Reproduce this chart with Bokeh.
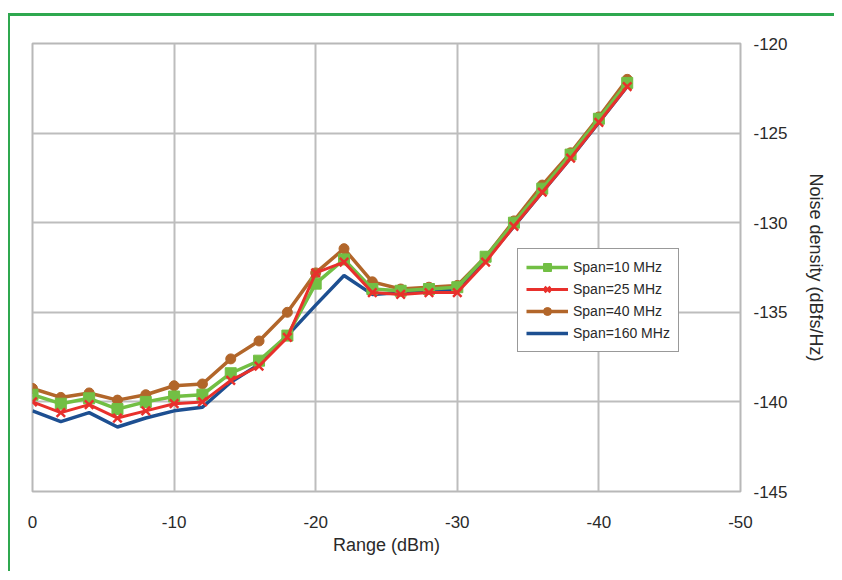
from bokeh.plotting import figure
from bokeh.models import Range1d, FixedTicker, Legend, LegendItem
from bokeh.embed import file_html
from bokeh.resources import INLINE

x_vals = [0, -2, -4, -6, -8, -10, -12, -14, -16, -18, -20, -22,
          -24, -26, -28, -30, -32, -34, -36, -38, -40, -42]
span10 = [-139.6, -140.1, -139.8, -140.4, -140.0, -139.7, -139.6, -138.4, -137.7, -136.3, -133.4, -132.05,
          -133.7, -133.8, -133.7, -133.6, -131.9, -130.0, -128.1, -126.2, -124.2, -122.2]
span25 = [-140.0, -140.6, -140.15, -140.9, -140.5, -140.1, -140.0, -138.8, -138.0, -136.4, -132.8, -132.2,
          -133.9, -134.0, -133.9, -133.9, -132.2, -130.2, -128.3, -126.4, -124.4, -122.4]
span40 = [-139.25, -139.75, -139.5, -139.9, -139.6, -139.1, -139.0, -137.6, -136.6, -135.0, -132.8, -131.45,
          -133.3, -133.7, -133.6, -133.5, -131.9, -129.9, -127.9, -126.1, -124.1, -122.0]
span160 = [-140.5, -141.1, -140.6, -141.4, -140.9, -140.5, -140.3, -138.9, -137.9, -136.3, -134.6, -132.95,
           -134.0, -133.9, -133.8, -133.8, -132.1, -130.2, -128.3, -126.4, -124.4, -122.4]
x_ticks = [0, -10, -20, -30, -40, -50]
x_tick_labels = ["0", "-10", "-20", "-30", "-40", "-50"]
y_ticks = [-145, -140, -135, -130, -125, -120]
y_tick_labels = ["-145", "-140", "-135", "-130", "-125", "-120"]
labels = ["Span=10 MHz", "Span=25 MHz", "Span=40 MHz", "Span=160 MHz"]

FONT = "Liberation Sans"
GREEN = "#72bf44"
RED = "#e8302c"
BROWN = "#b2662a"
BLUE = "#1d4f91"

p = figure(frame_width=708, frame_height=448,
           x_range=Range1d(0, -50), y_range=Range1d(-145, -120),
           output_backend="svg", toolbar_location=None,
           y_axis_location="right",
           min_border_left=22, min_border_top=27, min_border_right=94, min_border_bottom=80)

p.styles = {"border-top": "3px solid #2fa84f", "border-left": "2px solid #2fa84f",
            "margin-top": "13px", "margin-left": "8px"}

p.outline_line_color = "#b8b8b8"
p.outline_line_width = 2
p.grid.grid_line_color = "#bdbdbd"
p.grid.grid_line_width = 2

p.xaxis.ticker = FixedTicker(ticks=x_ticks)
p.yaxis.ticker = FixedTicker(ticks=y_ticks)
p.xaxis.major_label_overrides = dict(zip(x_ticks, x_tick_labels))
p.yaxis.major_label_overrides = dict(zip(y_ticks, y_tick_labels))
for ax in (p.xaxis, p.yaxis):
    ax.axis_line_color = None
    ax.major_tick_line_color = None
    ax.minor_tick_line_color = None
    ax.major_label_text_font = FONT
    ax.major_label_text_font_size = "17px"
    ax.major_label_text_color = "#2a2a2a"
    ax.axis_label_text_font = FONT
    ax.axis_label_text_font_size = "18px"
    ax.axis_label_text_font_style = "normal"
    ax.axis_label_text_color = "#2a2a2a"
p.xaxis.major_label_standoff = 18
p.yaxis.major_label_standoff = 7
p.xaxis.axis_label = "Range (dBm)"
p.yaxis.axis_label = "Noise density (dBfs/Hz)"
p.xaxis.axis_label_standoff = 4
p.yaxis.axis_label_standoff = 15

r_blue = p.line(x_vals, span160, line_color=BLUE, line_width=3.5)
l_brown = p.line(x_vals, span40, line_color=BROWN, line_width=3.5)
s_brown = p.scatter(x_vals, span40, marker="circle", size=10, fill_color=BROWN, line_color=BROWN)
l_green = p.line(x_vals, span10, line_color=GREEN, line_width=3.5)
s_green = p.scatter(x_vals, span10, marker="square", size=11, fill_color=GREEN, line_color=GREEN)
l_red = p.line(x_vals, span25, line_color=RED, line_width=3)
s_red = p.scatter(x_vals, span25, marker="x", size=12, line_color=RED, line_width=2.5)

legend = Legend(items=[
    LegendItem(label=labels[0], renderers=[l_green, s_green]),
    LegendItem(label=labels[1], renderers=[l_red, s_red]),
    LegendItem(label=labels[2], renderers=[l_brown, s_brown]),
    LegendItem(label=labels[3], renderers=[r_blue]),
], location=(485, 139))
legend.label_text_font = FONT
legend.label_text_font_size = "14px"
legend.label_text_color = "#2a2a2a"
legend.border_line_color = "#333333"
legend.border_line_width = 1
legend.background_fill_alpha = 1
legend.glyph_width = 42
legend.glyph_height = 20
legend.spacing = 2
legend.padding = 8
legend.margin = 0
legend.label_standoff = 5
p.add_layout(legend)

open("out.html", "w").write(file_html(p, INLINE))
